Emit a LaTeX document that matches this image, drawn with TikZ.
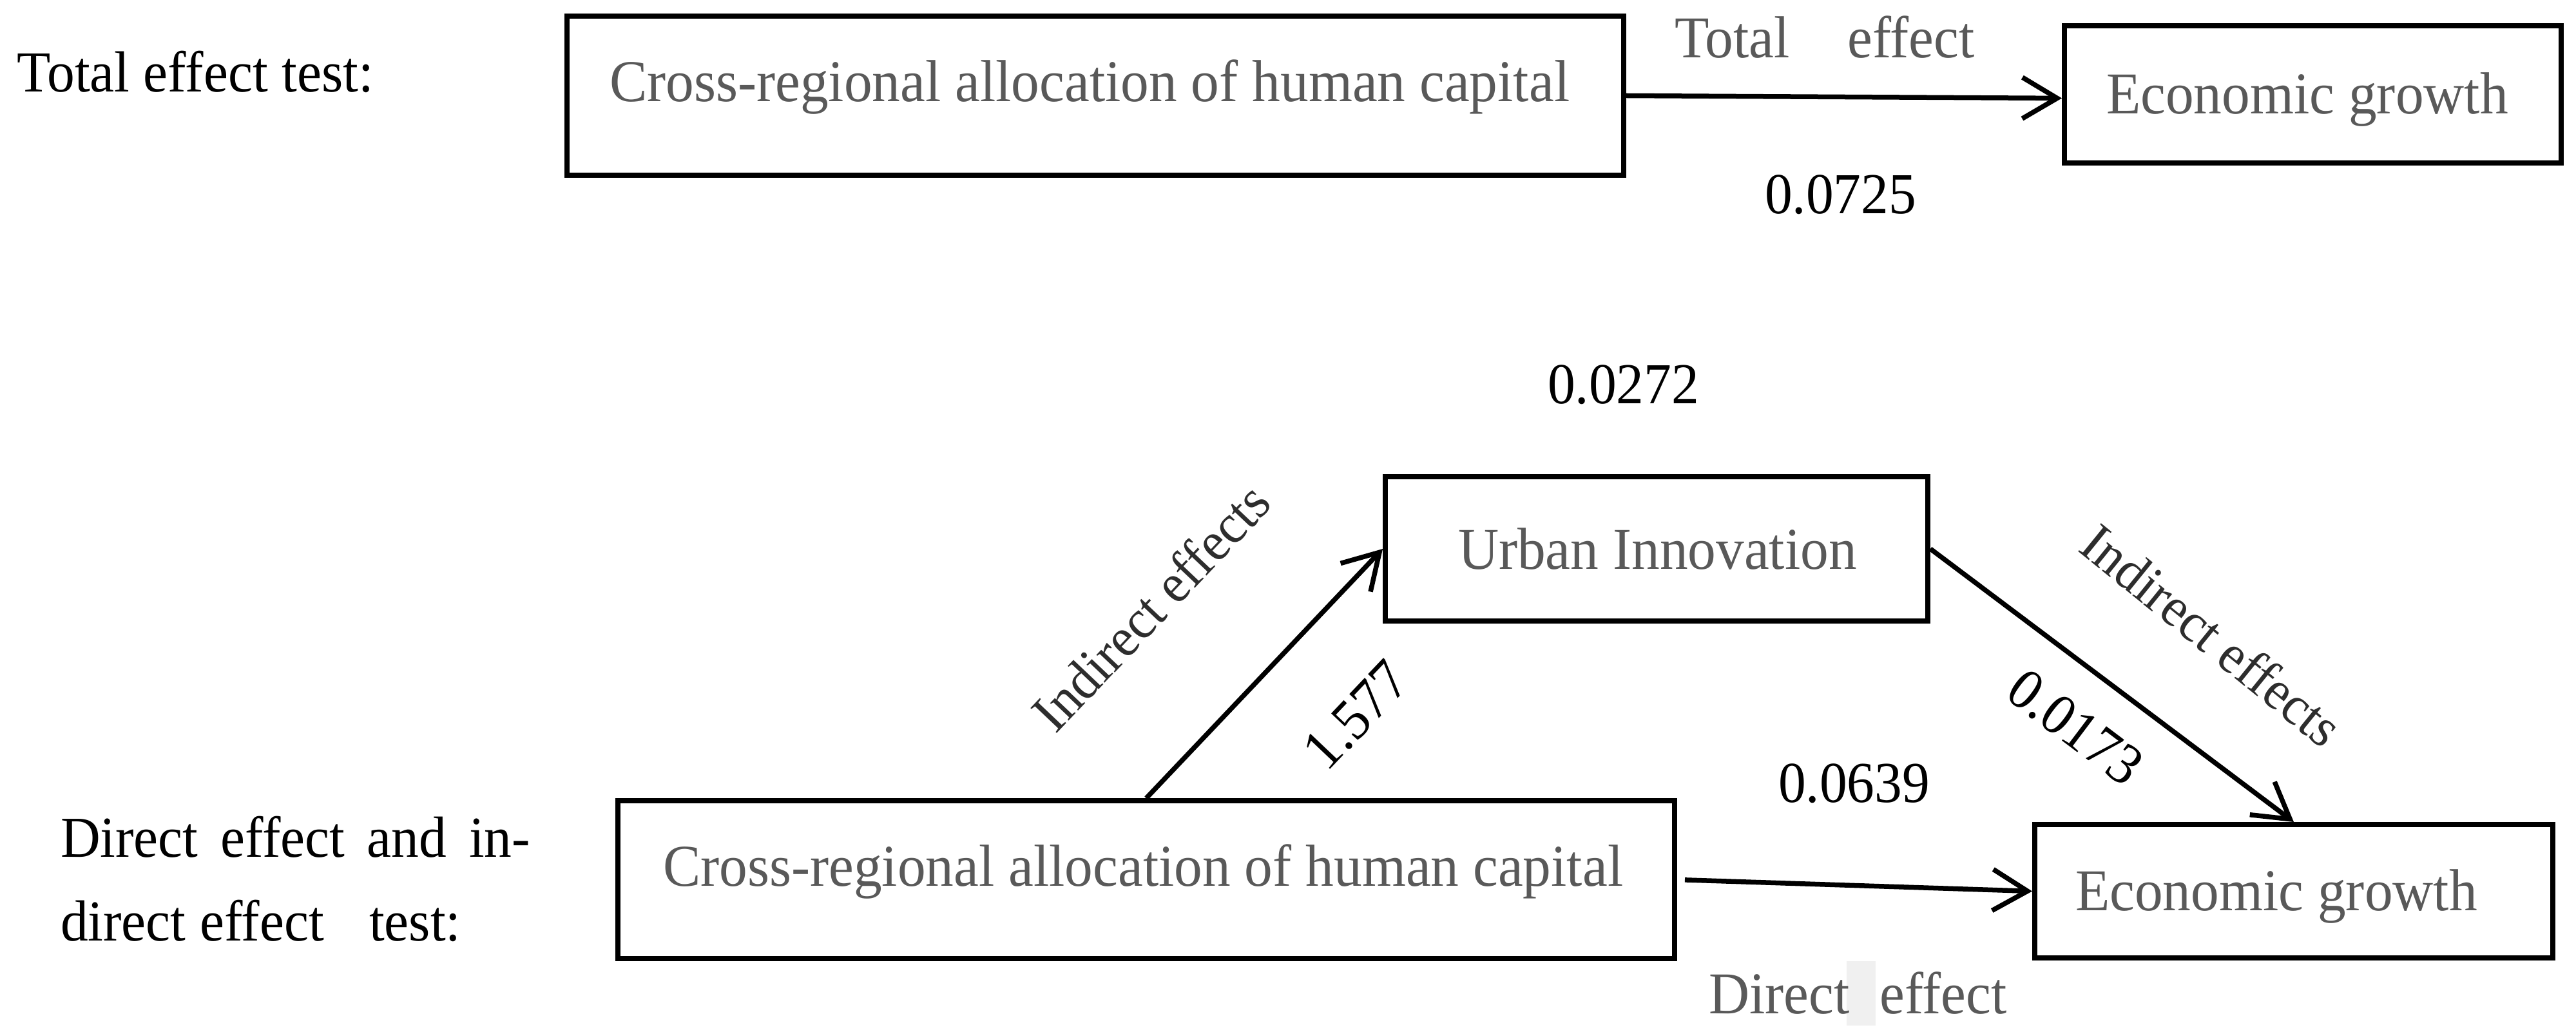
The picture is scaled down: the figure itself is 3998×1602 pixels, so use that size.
\documentclass[tikz,border=0pt]{standalone}
\usepackage{fontspec}
\setmainfont{Liberation Serif}[FakeStretch=0.95]
\usetikzlibrary{arrows.meta,calc}
\definecolor{txtgray}{RGB}{89,89,89}
\definecolor{lblgray}{RGB}{45,45,45}
\begin{document}
\begin{tikzpicture}[x=0.1pt,y=-0.1pt,
  box/.style={draw, line width=0.8pt, rectangle, inner sep=0pt},
  boxtxt/.style={inner sep=0pt, anchor=base west, text=txtgray, font=\fontsize{9.2}{11}\selectfont},
  sidetxt/.style={inner sep=0pt, anchor=base west, text=black, font=\fontsize{9}{11}\selectfont},
  numtxt/.style={inner sep=0pt, text=black, font=\fontsize{9}{11}\selectfont},
  indtxt/.style={inner sep=0pt, text=lblgray, font=\fontsize{8.6}{11}\selectfont},
  arr/.style={line width=0.75pt, -{Straight Barb[length=5.4pt,width=6.4pt]}}]
\useasboundingbox (0,0) rectangle (3998,1602);

% ---------- total effect test ----------
\node[sidetxt] (lblA) at (25,143) {Total effect test:};
\node[box, minimum width=164pt, minimum height=24.7pt] (b1) at (1700,148.5) {};
\node[boxtxt] (tb1) at (944,158) {Cross-regional allocation of human capital};
\node[box, minimum width=77.1pt, minimum height=21.3pt] (e1) at (3589.5,146.5) {};
\node[boxtxt] (te1) at (3267,177) {Economic growth};
\draw[arr] (b1.east) -- ($(e1.west)+(0,6)$);
\node[boxtxt] (ltot) at (2597,90) {Total\hspace{9pt}effect};
\node[numtxt, anchor=base west] (n1) at (2737,332) {0.0725};

% ---------- direct and indirect effect test ----------
\node[numtxt, anchor=base west] (n2) at (2400,626) {0.0272};
\node[box, minimum width=84.2pt, minimum height=22.4pt] (ui) at (2571,852) {};
\node[boxtxt] (tui) at (2261,883) {Urban Innovation};

\node[sidetxt] (lblB1) at (92,1330) {\makebox[72.9pt][s]{Direct effect and in-}};
\node[sidetxt] (lblB2) at (92,1460) {direct effect\hspace{7pt}test:};

\node[box, minimum width=164pt, minimum height=24.5pt] (b2) at (1779,1365.5) {};
\node[boxtxt] (tb2) at (1027,1375) {Cross-regional allocation of human capital};
\node[box, minimum width=80.4pt, minimum height=20.7pt] (e2) at (3560,1383.5) {};
\node[boxtxt] (te2) at (3219,1413) {Economic growth};

\draw[arr] (b2.north) -- (ui.west);
\draw[arr] (ui.east) -- (e2.north);
\draw[arr, shorten <=1.2pt] (b2.east) -- (e2.west);

\node[indtxt, rotate=46.5] (ind1) at (1786,942) {Indirect effects};
\node[numtxt, rotate=46.5] (n3) at (2105,1110) {1.577};
\node[indtxt, rotate=-39] (ind2) at (3433,986) {Indirect effects};
\node[numtxt, rotate=-37] (n4) at (3221,1129) {0.0173};

\node[numtxt, anchor=base west] (n5) at (2758,1245) {0.0639};
\fill[black!6] (2866,1492) rectangle (2911,1592);
\node[boxtxt] (ldir) at (2650,1573) {Direct\hspace{4.7pt}effect};
\end{tikzpicture}
\end{document}
